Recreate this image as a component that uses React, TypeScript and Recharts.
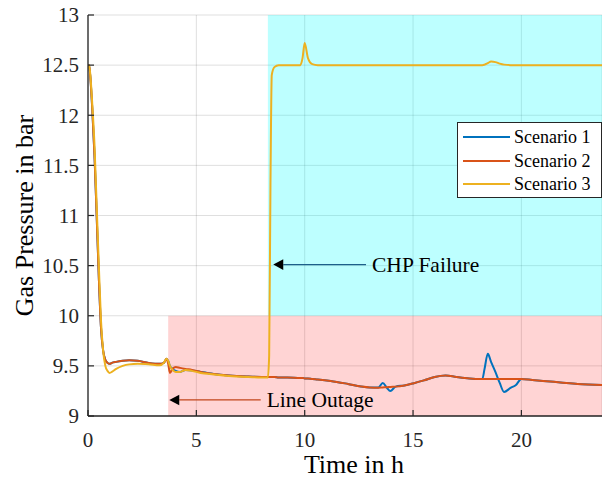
import React from 'react'
import {
  LineChart,
  Line,
  XAxis,
  YAxis,
  CartesianGrid,
  ReferenceArea,
  ReferenceLine,
} from 'recharts'

// time axis (h) shared by all scenarios
const timeH = [
  0, 0.05, 0.1, 0.2, 0.3, 0.4, 0.5, 0.6, 0.7, 0.8,
  0.9, 1.0, 1.1, 1.3, 1.6, 1.9, 2.3, 2.8, 3.3, 3.5,
  3.62, 3.7, 3.78, 3.9, 4.05, 4.25, 4.5, 4.8, 5.2, 5.8,
  6.5, 7.3, 8.0, 8.3, 8.36, 8.42, 8.48, 8.6, 8.8, 9.2,
  9.8, 9.9, 10.0, 10.15, 10.35, 10.6, 11.2, 12.0, 12.6, 13.0,
  13.4, 13.6, 13.8, 13.95, 14.2, 14.6, 15.0, 15.5, 16.0, 16.5,
  17.0, 17.6, 18.2, 18.3, 18.45, 18.6, 18.8, 19.0, 19.2, 19.5,
  19.75, 20.0, 20.5, 21.0, 21.8, 22.6, 23.72,
]

const scenario1 = [
  12.47, 12.5, 12.4, 12.05, 11.6, 11.0, 10.38, 9.88, 9.65, 9.56,
  9.53, 9.52, 9.53, 9.54, 9.55, 9.555, 9.55, 9.53, 9.52, 9.53,
  9.57, 9.55, 9.5, 9.47, 9.45, 9.44, 9.46, 9.455, 9.44, 9.42,
  9.405, 9.395, 9.39, 9.39, 9.39, 9.39, 9.39, 9.39, 9.385, 9.385,
  9.38, 9.38, 9.375, 9.375, 9.37, 9.365, 9.35, 9.32, 9.295, 9.285,
  9.285, 9.33, 9.28, 9.25, 9.293, 9.305, 9.325, 9.355, 9.39, 9.405,
  9.39, 9.375, 9.37, 9.47, 9.62, 9.54, 9.44, 9.33, 9.24, 9.28,
  9.31, 9.37, 9.36, 9.35, 9.335, 9.32, 9.31,
]

const scenario2 = [
  12.47, 12.5, 12.4, 12.05, 11.6, 11.0, 10.38, 9.88, 9.65, 9.56,
  9.53, 9.52, 9.53, 9.54, 9.55, 9.555, 9.55, 9.53, 9.52, 9.53,
  9.57, 9.52, 9.43, 9.47, 9.49, 9.48, 9.47, 9.46, 9.44, 9.42,
  9.405, 9.395, 9.39, 9.39, 9.39, 9.39, 9.39, 9.39, 9.385, 9.385,
  9.38, 9.38, 9.375, 9.375, 9.37, 9.365, 9.35, 9.32, 9.295, 9.285,
  9.283, 9.285, 9.287, 9.29, 9.293, 9.305, 9.325, 9.355, 9.39, 9.405,
  9.39, 9.375, 9.37, 9.37, 9.37, 9.37, 9.37, 9.37, 9.37, 9.37,
  9.37, 9.37, 9.36, 9.35, 9.335, 9.32, 9.31,
]

const scenario3 = [
  12.46, 12.5, 12.42, 12.1, 11.7, 11.1, 10.5, 9.95, 9.65, 9.5,
  9.45, 9.43, 9.44, 9.47, 9.5, 9.515, 9.52, 9.515, 9.505, 9.53,
  9.57, 9.55, 9.5, 9.46, 9.44, 9.44, 9.46, 9.45, 9.43, 9.415,
  9.4, 9.39, 9.385, 9.385, 9.6, 11.3, 12.4, 12.48, 12.5, 12.5,
  12.5, 12.57, 12.72, 12.57, 12.51, 12.5, 12.5, 12.5, 12.5, 12.5,
  12.5, 12.5, 12.5, 12.5, 12.5, 12.5, 12.5, 12.5, 12.5, 12.5,
  12.5, 12.5, 12.5, 12.505, 12.52, 12.535, 12.53, 12.515, 12.505, 12.5,
  12.5, 12.5, 12.5, 12.5, 12.5, 12.5, 12.5,
]

const seriesNames = ['Scenario 1', 'Scenario 2', 'Scenario 3']
const seriesKeys = ['s1', 's2', 's3']
const seriesColors = ['#0072BD', '#D95319', '#EDB120']

const xTicks = [0, 5, 10, 15, 20]
const yTicks = [9, 9.5, 10, 10.5, 11, 11.5, 12, 12.5, 13]

const data = timeH.map((t, i) => ({
  t,
  s1: scenario1[i],
  s2: scenario2[i],
  s3: scenario3[i],
}))

const FONT = 'Liberation Serif, DejaVu Serif, serif'
const AXIS = '#262626'
const TICK_LEN = 6

function YTick({ x, y, payload }: any) {
  return (
    <g>
      <line x1={x + 9} x2={x + 9 + TICK_LEN} y1={y} y2={y} stroke={AXIS} strokeWidth={1.2} />
      <text x={x} y={y} dy="0.35em" textAnchor="end" fontSize={21} fill={AXIS} style={{ fontFamily: FONT }}>
        {payload.value}
      </text>
    </g>
  )
}

function XTick({ x, y, payload }: any) {
  return (
    <g>
      <line x1={x} x2={x} y1={y - 16} y2={y - 16 - TICK_LEN} stroke={AXIS} strokeWidth={1.2} />
      <text x={x} y={y} dy="0.71em" textAnchor="middle" fontSize={21} fill={AXIS} style={{ fontFamily: FONT }}>
        {payload.value}
      </text>
    </g>
  )
}

// text arrow: segment goes from tail (text side) to tip
const arrowShape = (text: string, color: string) => (props: any) => {
  const { x1, y1, x2 } = props
  return (
    <g>
      <line x1={x1} y1={y1} x2={x2 + 10} y2={y1} stroke={color} strokeWidth={1.3} />
      <polygon points={`${x2},${y1} ${x2 + 10},${y1 - 5.3} ${x2 + 10},${y1 + 5.3}`} fill="#000" />
      <text x={x1 + 6} y={y1} dy="0.35em" fontSize={21.5} fill="#000" style={{ fontFamily: FONT }}>
        {text}
      </text>
    </g>
  )
}

const lineOutage = { tail: 7.97, tip: 3.75, p: 9.16 }
const chpFailure = { tail: 12.83, tip: 8.55, p: 10.51 }

function Legend() {
  return (
    <div
      style={{
        position: 'absolute',
        left: 457,
        top: 122,
        width: 143,
        height: 74,
        border: '1px solid #262626',
        background: '#fff',
        fontFamily: FONT,
        fontSize: 18,
      }}
    >
      {seriesNames.map((name, i) => (
        <div key={name} style={{ position: 'absolute', left: 0, top: 2 + i * 23.7, height: 24, width: 143 }}>
          <div style={{ position: 'absolute', left: 5, top: 11, width: 47, height: 2, background: seriesColors[i] }} />
          <span style={{ position: 'absolute', left: 56, top: 1, lineHeight: '22px', color: '#000' }}>{name}</span>
        </div>
      ))}
    </div>
  )
}

export default function App() {
  return (
    <div style={{ position: 'absolute', left: 0, top: 0, width: 602, height: 481, background: '#fff', fontFamily: FONT }}>
      <LineChart width={602} height={481} data={data} margin={{ top: 15, right: 0, bottom: 35, left: 0 }}>
        <CartesianGrid stroke={AXIS} strokeOpacity={0.15} />
        <ReferenceArea x1={3.7} x2={23.72} y1={9} y2={10} fill="#ff0000" fillOpacity={0.17} stroke="none" />
        <ReferenceArea x1={8.3} x2={23.72} y1={10} y2={13} fill="#00ffff" fillOpacity={0.26} stroke="none" />
        <XAxis
          type="number"
          dataKey="t"
          domain={[0, 23.72]}
          ticks={xTicks}
          allowDataOverflow
          height={30}
          tickSize={0}
          tickMargin={16}
          tickLine={false}
          tick={<XTick />}
          axisLine={{ stroke: AXIS, strokeWidth: 1.3 }}
          label={{
            content: ({ viewBox }: any) => (
              <text x={viewBox.x + viewBox.width / 2 + 9} y={viewBox.y + 57} textAnchor="middle" fontSize={26} fill="#000" style={{ fontFamily: FONT }}>
                Time in h
              </text>
            ),
          }}
        />
        <YAxis
          type="number"
          domain={[9, 13]}
          ticks={yTicks}
          allowDataOverflow
          width={88}
          tickSize={0}
          tickMargin={9}
          tickLine={false}
          tick={<YTick />}
          axisLine={{ stroke: AXIS, strokeWidth: 1.3 }}
          label={{
            content: ({ viewBox }: any) => {
              const cx = viewBox.x + 33
              const cy = viewBox.y + viewBox.height / 2
              return (
                <text x={cx} y={cy} transform={`rotate(-90 ${cx} ${cy})`} textAnchor="middle" fontSize={26} fill="#000" style={{ fontFamily: FONT }}>
                  Gas Pressure in bar
                </text>
              )
            },
          }}
        />
        {seriesKeys.map((k, i) => (
          <Line
            key={k}
            type="monotone"
            dataKey={k}
            name={seriesNames[i]}
            stroke={seriesColors[i]}
            strokeWidth={2}
            dot={false}
            isAnimationActive={false}
          />
        ))}
        <ReferenceLine
          segment={[{ x: lineOutage.tail, y: lineOutage.p }, { x: lineOutage.tip, y: lineOutage.p }]}
          shape={arrowShape('Line Outage', '#c2461b')}
        />
        <ReferenceLine
          segment={[{ x: chpFailure.tail, y: chpFailure.p }, { x: chpFailure.tip, y: chpFailure.p }]}
          shape={arrowShape('CHP Failure', '#1d5f8a')}
        />
      </LineChart>
      <Legend />
    </div>
  )
}
